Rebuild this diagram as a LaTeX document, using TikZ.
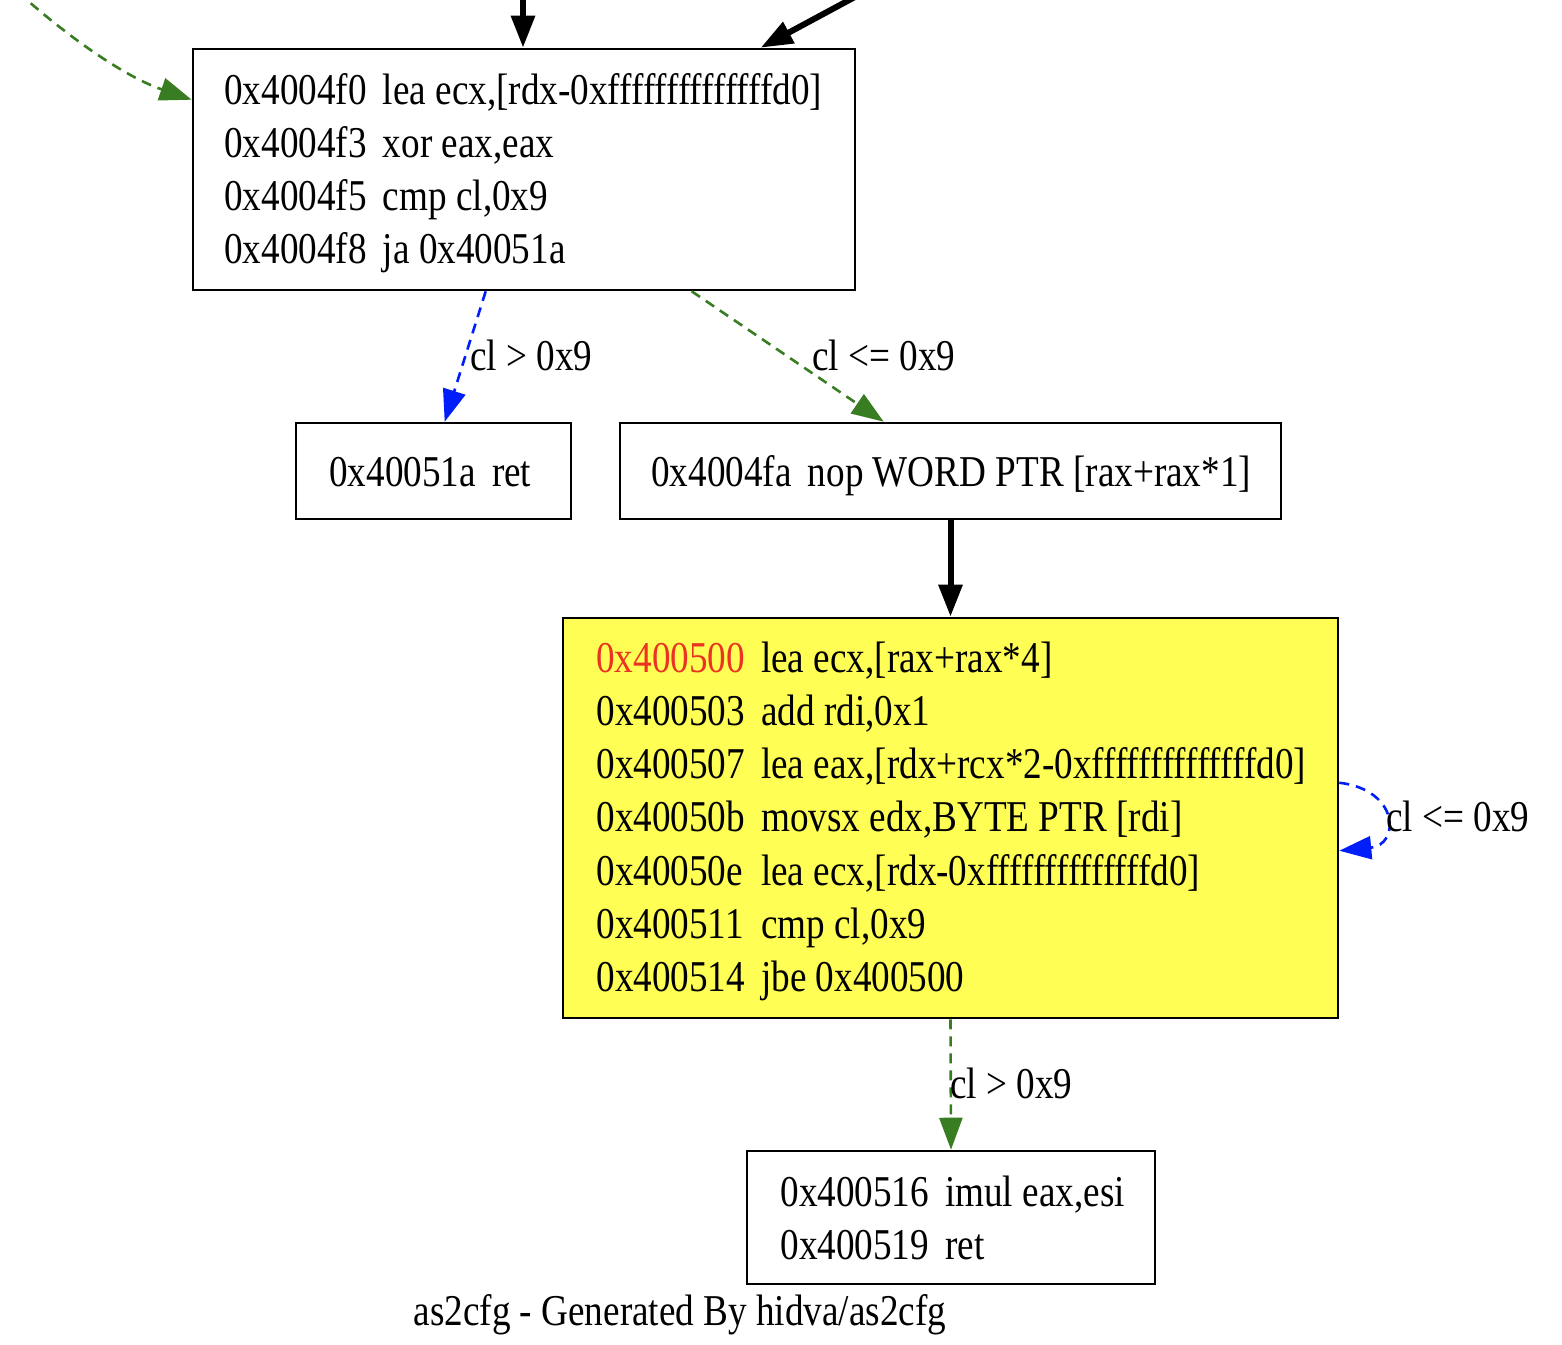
\documentclass[tikz,border=0pt]{standalone}
\usepackage{fontspec}
\setmainfont{Liberation Serif}[FakeStretch=0.845]
\usetikzlibrary{arrows.meta,calc}
\definecolor{cfggreen}{RGB}{56,125,34}
\definecolor{cfgblue}{RGB}{0,30,250}
\definecolor{cfgred}{RGB}{234,51,35}
\definecolor{cfgyellow}{RGB}{255,254,84}
\tikzset{
  bb/.style={draw=black, line width=1.3pt, inner sep=0pt, rectangle},
  txt/.style={inner sep=0pt, anchor=base west, font=\fontsize{22}{26.65}\selectfont},
  tipA/.style={-{Triangle[length=16pt,width=11.5pt]}},
  solidedge/.style={tipA, line width=3pt, draw=black},
  gedge/.style={tipA, line width=1.3pt, draw=cfggreen, dash pattern=on 5pt off 3.5pt},
  bedge/.style={tipA, line width=1.3pt, draw=cfgblue, dash pattern=on 5pt off 3.5pt},
}
\begin{document}
\begin{tikzpicture}[x=0.5pt,y=-0.5pt]
\useasboundingbox (0,0) rectangle (1562,1344);
\clip (0,0) rectangle (1562,1344);

% boxes
\node[bb, minimum width=331pt, minimum height=120.5pt] (n1) at (524,169.5) {};
\node[bb, minimum width=137.5pt, minimum height=48pt] (n2) at (433.5,471) {};
\node[bb, minimum width=330.5pt, minimum height=48pt] (n3) at (950.5,471) {};
\node[bb, fill=cfgyellow, minimum width=387.5pt, minimum height=200pt] (n4) at (950.5,818) {};
\node[bb, minimum width=204pt, minimum height=66.5pt] (n5) at (951,1217.5) {};

% box texts
\node[txt] (t1) at (224,104) {\begin{tabular}[t]{@{}l@{\hspace{8pt}}l@{}}
0x4004f0 & lea ecx,[rdx-0xffffffffffffffd0]\\
0x4004f3 & xor eax,eax\\
0x4004f5 & cmp cl,0x9\\
0x4004f8 & ja 0x40051a
\end{tabular}};
\node[txt] (t2) at (329,486) {\begin{tabular}[t]{@{}l@{\hspace{8pt}}l@{}}
0x40051a & ret
\end{tabular}};
\node[txt] (t3) at (651,486) {\begin{tabular}[t]{@{}l@{\hspace{8pt}}l@{}}
0x4004fa & nop WORD PTR [rax+rax*1]
\end{tabular}};
\node[txt] (t4) at (596,672) {\begin{tabular}[t]{@{}l@{\hspace{8pt}}l@{}}
\textcolor{cfgred}{0x400500} & lea ecx,[rax+rax*4]\\
0x400503 & add rdi,0x1\\
0x400507 & lea eax,[rdx+rcx*2-0xffffffffffffffd0]\\
0x40050b & movsx edx,BYTE PTR [rdi]\\
0x40050e & lea ecx,[rdx-0xffffffffffffffd0]\\
0x400511 & cmp cl,0x9\\
0x400514 & jbe 0x400500
\end{tabular}};
\node[txt] (t5) at (780,1206) {\begin{tabular}[t]{@{}l@{\hspace{8pt}}l@{}}
0x400516 & imul eax,esi\\
0x400519 & ret
\end{tabular}};

% footer
\node[txt, anchor=base] (foot) at (680,1325) {as2cfg - Generated By hidva/as2cfg};

% incoming edges from above
\coordinate (g0) at (18,-8);
\coordinate (b1) at (523,-12);
\coordinate (b2) at (866,-9);
\draw[gedge] (g0) .. controls (60,30) and (120,75) .. ($(n1.north west)+(0,52)$);
\draw[solidedge] (b1) -- (n1.north -| b1);
\draw[solidedge] (b2) -- ($(n1.north west)+(569,0)$);

% edges
\draw[bedge] ($(n1.south west)+(294,0)$) -- ($(n2.north west)+(150,0)$);
\node[txt] (l1) at (470,370) {cl > 0x9};
\draw[gedge] ($(n1.south west)+(500,0)$) -- ($(n3.north west)+(265,0)$);
\node[txt] (l2) at (812,370) {cl <= 0x9};
\draw[solidedge] (n3.south) -- (n4.north);
\draw[bedge] ($(n4.north east)+(0,166)$) .. controls (1400,790) and (1400,845) .. ($(n4.north east)+(0,234)$);
\node[txt] (l3) at (1386,831) {cl <= 0x9};
\draw[gedge] (n4.south) -- (n5.north);
\node[txt] (l4) at (950,1098) {cl > 0x9};
\end{tikzpicture}
\end{document}
